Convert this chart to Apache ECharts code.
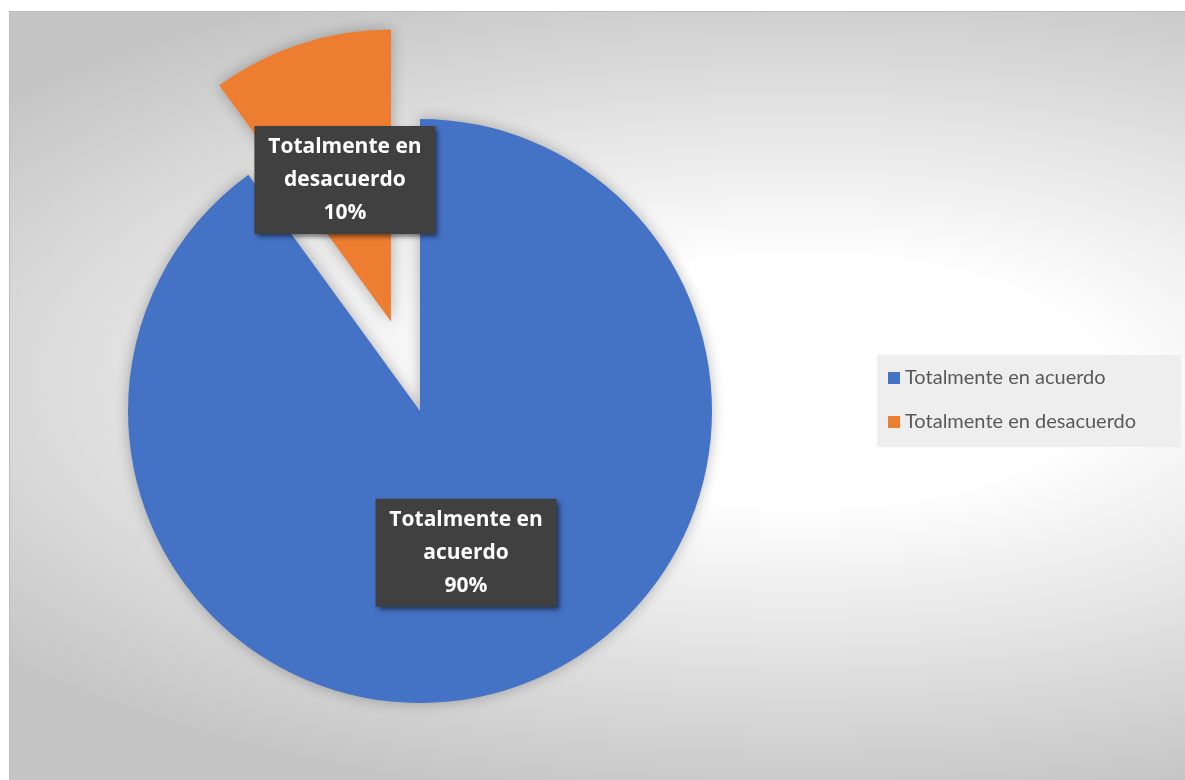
<!DOCTYPE html>
<html>
<head>
<meta charset="utf-8">
<script src="https://cdn.jsdelivr.net/npm/echarts@6/dist/echarts.min.js"></script>
<style>
  html, body { margin: 0; padding: 0; background: #ffffff; }
  #chart {
    position: absolute; left: 9px; top: 11px; width: 1176px; height: 769px;
    border-top: 1px solid #bdbdbd; border-left: 1px solid #bdbdbd; box-sizing: border-box;
    background: radial-gradient(ellipse 1050px 430px at 791px 369px, #ffffff 0%, #ffffff 28%, #d9d9d9 75%, #c5c5c5 100%);
  }
</style>
</head>
<body>
<div id="chart"></div>
<script>
const categories = ['Totalmente en acuerdo', 'Totalmente en desacuerdo'];
const values = [90, 10];
const colors = ['#4472C4', '#ED7D31'];
const labelLines = [['Totalmente en', 'acuerdo'], ['Totalmente en', 'desacuerdo']];

const chart = echarts.init(document.getElementById('chart'), null, { renderer: 'canvas' });
const data = categories.map((c, i) => ({
  name: c,
  value: values[i],
  selected: i === 1,
  itemStyle: { color: colors[i] }
}));

chart.setOption({
  animation: false,
  backgroundColor: 'transparent',
  legend: {
    orient: 'vertical',
    left: 867,
    top: 343,
    data: categories,
    icon: 'rect',
    itemWidth: 12,
    itemHeight: 12,
    itemGap: 24,
    padding: [13, 45, 15, 11],
    backgroundColor: '#eeeeee',
    selectedMode: false,
    textStyle: { fontFamily: 'Lato', fontSize: 20, lineHeight: 20, color: '#595959' }
  },
  series: [{
    type: 'pie',
    center: [410, 399],
    radius: 292,
    startAngle: 90,
    clockwise: true,
    selectedMode: 'single',
    selectedOffset: 94,
    emphasis: { disabled: true },
    itemStyle: { shadowBlur: 14, shadowColor: 'rgba(0,0,0,0.28)' },
    label: {
      show: true,
      position: 'inside',
      formatter: p => labelLines[p.dataIndex].join('\n') + '\n' + p.value + '%',
      fontFamily: 'Open Sans',
      fontWeight: 'bold',
      fontSize: 21,
      lineHeight: 33,
      width: 161,
      color: '#ffffff',
      align: 'center',
      backgroundColor: '#404040',
      padding: [8, 10, 1, 10],
      shadowColor: 'rgba(0,0,0,0.55)',
      shadowBlur: 5,
      shadowOffsetX: 3,
      shadowOffsetY: 3
    },
    labelLine: { show: false },
    data: data
  }]
});
</script>
</body>
</html>
